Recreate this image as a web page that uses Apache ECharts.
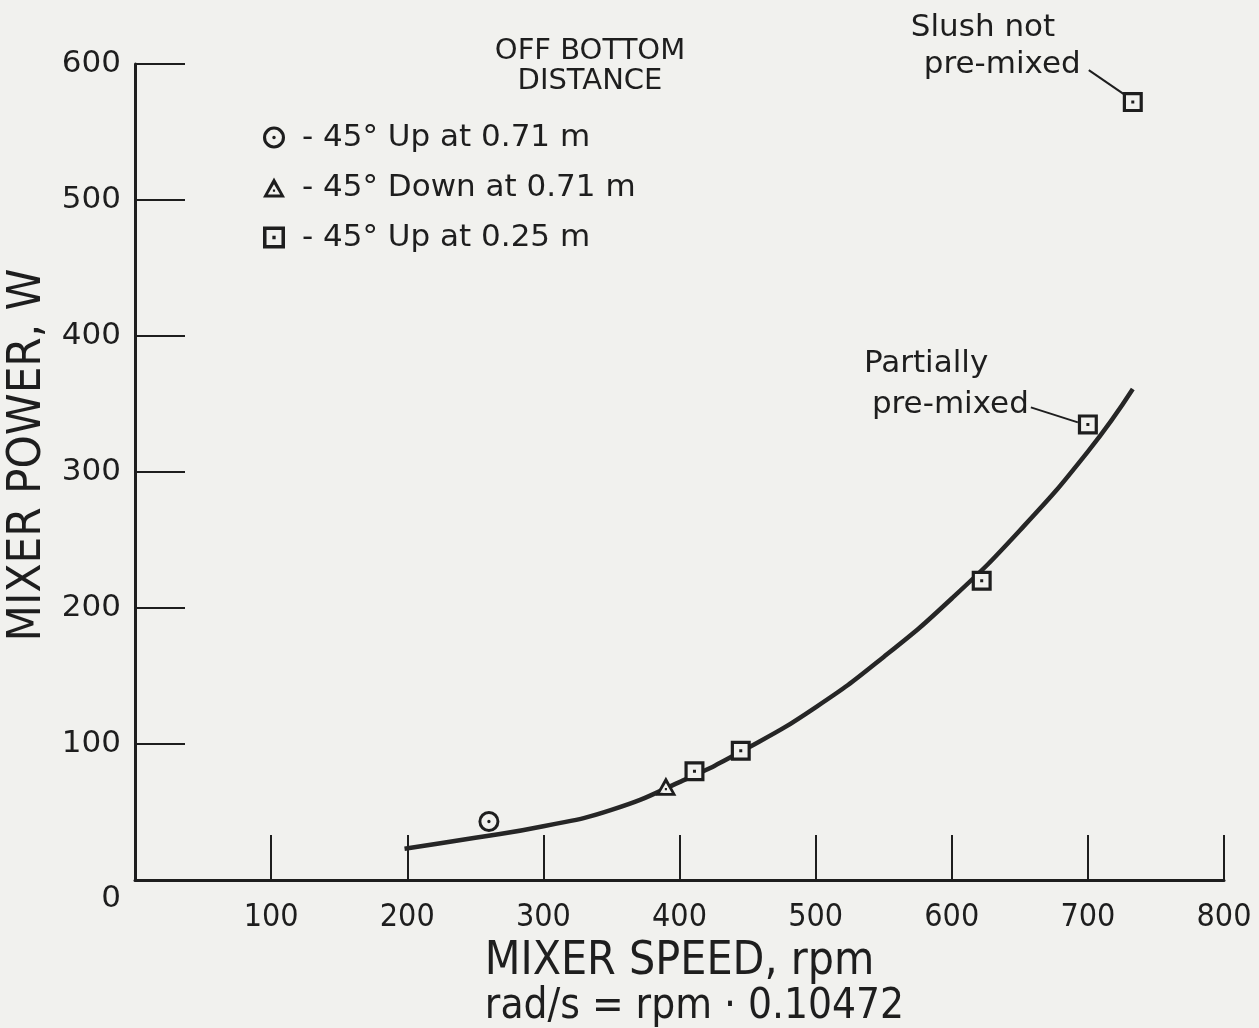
<!DOCTYPE html>
<html><head><meta charset="utf-8">
<script src="https://cdn.jsdelivr.net/npm/echarts@6/dist/echarts.min.js"></script>
<style>html,body{margin:0;padding:0;background:#f1f1ee}#c{width:1259px;height:1028px}</style>
</head><body><div id="c"></div>
<script>
// ---- data ----
const fitCurve = [[198,23],[250,31],[300,39.5],[350,51.5],[400,72],[450,97],[500,127],[550,164],[600,207],[650,257],[700,315],[733,361]];
const circlePts = [[260,43]];
const trianglePts = [[390,69]];
const squarePts = [[411,80],[445,95],[622,220],[700,335],[733,572]];
const legendNames = ['- 45° Up at 0.71 m', '- 45° Down at 0.71 m', '- 45° Up at 0.25 m'];
const xTitle = 'MIXER SPEED, rpm';
const xSubTitle = 'rad/s = rpm · 0.10472';
const yTitle = 'MIXER POWER, W';
const legendTitle = 'OFF BOTTOM\nDISTANCE';
const noteSlush = ['Slush not', 'pre-mixed'];
const notePartial = ['Partially', 'pre-mixed'];

const INK = '#1e1e1e';
const BG = '#f1f1ee';
const squareSym = 'path://M0,0H20V20H0Z M3.2,3.2V16.8H16.8V3.2Z M8.5,8.5H11.5V11.5H8.5Z';
const circleSym = 'path://M10,0A10,10,0,1,1,10,20A10,10,0,1,1,10,0Z M10,2.8A7.2,7.2,0,1,0,10,17.2A7.2,7.2,0,1,0,10,2.8Z M10,8.4A1.6,1.6,0,1,1,10,11.6A1.6,1.6,0,1,1,10,8.4Z';
const triSym = 'path://M10,0L20,18H0Z M10,6L4.4,15.4H15.6Z M9,10.8H11V12.8H9Z';

const chart = echarts.init(document.getElementById('c'));
const option = {
  backgroundColor: BG,
  animation: false,
  grid: {left: 135, right: 35, top: 64, bottom: 148, containLabel: false, outerBoundsMode: 'none'},
  legend: {
    orient: 'vertical', left: 258, top: 117,
    itemWidth: 22, itemHeight: 22, itemGap: 19,
    data: legendNames,
    textStyle: {fontSize: 31, color: INK, fontFamily: 'DejaVu Sans', padding: [0, 0, 0, 12]}
  },
  xAxis: {
    type: 'value', min: 0, max: 800, interval: 100,
    axisLine: {lineStyle: {color: INK, width: 3}},
    axisTick: {inside: true, length: 45, lineStyle: {color: INK, width: 2}},
    splitLine: {show: false},
    axisLabel: {margin: 22, fontSize: 32, color: INK, fontFamily: 'DejaVu Sans Condensed',
      formatter: v => v === 0 ? '' : String(v)},
    name: '{a|' + xTitle + '}\n{b|' + xSubTitle + '}', nameLocation: 'middle', nameGap: 56,
    nameTextStyle: {color: INK, fontFamily: 'DejaVu Sans Condensed',
      rich: {a: {fontSize: 46, lineHeight: 45, color: INK, fontFamily: 'DejaVu Sans Condensed'},
             b: {fontSize: 42, lineHeight: 45, color: INK, fontFamily: 'DejaVu Sans Condensed', padding: [0, 0, 0, 30]}}}
  },
  yAxis: {
    type: 'value', min: 0, max: 600, interval: 100,
    axisLine: {show: true, lineStyle: {color: INK, width: 3}},
    axisTick: {show: true, inside: true, length: 50, lineStyle: {color: INK, width: 2}},
    splitLine: {show: false},
    axisLabel: {margin: 14, fontSize: 31, color: INK, fontFamily: 'DejaVu Sans',
      formatter: v => v === 0 ? '{z|0}' : String(v),
      rich: {z: {fontSize: 31, color: INK, fontFamily: 'DejaVu Sans', padding: [38, 0, 0, 0]}}},
    name: yTitle, nameLocation: 'middle', nameGap: 68,
    nameTextStyle: {fontSize: 47, color: INK, fontFamily: 'DejaVu Sans Condensed', padding: [0, 0, 0, 34]}
  },
  series: [
    {type: 'line', name: 'fit', data: fitCurve, showSymbol: false, smooth: 0.5, silent: true,
      lineStyle: {color: '#262626', width: 4.5}, z: 2},
    {type: 'scatter', name: 'bg1', data: circlePts, symbol: 'circle', symbolSize: 16, itemStyle: {color: BG, opacity: 1}, z: 3, silent: true},
    {type: 'scatter', name: 'bg2', data: trianglePts, symbol: 'triangle', symbolSize: 13, itemStyle: {color: BG, opacity: 1}, z: 3, silent: true},
    {type: 'scatter', name: 'bg3', data: squarePts, symbol: 'rect', symbolSize: 16, itemStyle: {color: BG, opacity: 1}, z: 3, silent: true},
    {type: 'scatter', name: legendNames[0], data: circlePts, symbol: circleSym, symbolSize: 21, itemStyle: {color: INK, opacity: 1}, z: 4},
    {type: 'scatter', name: legendNames[1], data: trianglePts, symbol: triSym, symbolSize: [21, 19], itemStyle: {color: INK, opacity: 1}, z: 4},
    {type: 'scatter', name: legendNames[2], data: squarePts, symbol: squareSym, symbolSize: 20, itemStyle: {color: INK, opacity: 1}, z: 4}
  ]
};
chart.setOption(option);

const ps = chart.convertToPixel({gridIndex: 0}, squarePts[4]);
const pp = chart.convertToPixel({gridIndex: 0}, squarePts[3]);
const txt = (x, y, s) => ({type: 'text', x: x, y: y, style: {text: s, fontSize: 31, fill: INK, fontFamily: 'DejaVu Sans', textVerticalAlign: 'middle'}});
chart.setOption({graphic: [
  {type: 'text', x: 590, y: 66, style: {text: legendTitle, fontSize: 29, lineHeight: 30, fill: INK, fontFamily: 'DejaVu Sans', textAlign: 'center', textVerticalAlign: 'middle'}},
  txt(ps[0] - 222, ps[1] - 74, noteSlush[0]),
  txt(ps[0] - 209, ps[1] - 37, noteSlush[1]),
  {type: 'line', shape: {x1: ps[0] - 44, y1: ps[1] - 32, x2: ps[0] - 9, y2: ps[1] - 8}, style: {stroke: INK, lineWidth: 2}},
  txt(pp[0] - 224, pp[1] - 60, notePartial[0]),
  txt(pp[0] - 216, pp[1] - 19, notePartial[1]),
  {type: 'line', shape: {x1: pp[0] - 57, y1: pp[1] - 17, x2: pp[0] - 10, y2: pp[1] - 2}, style: {stroke: INK, lineWidth: 2}}
]});
</script>
</body></html>
